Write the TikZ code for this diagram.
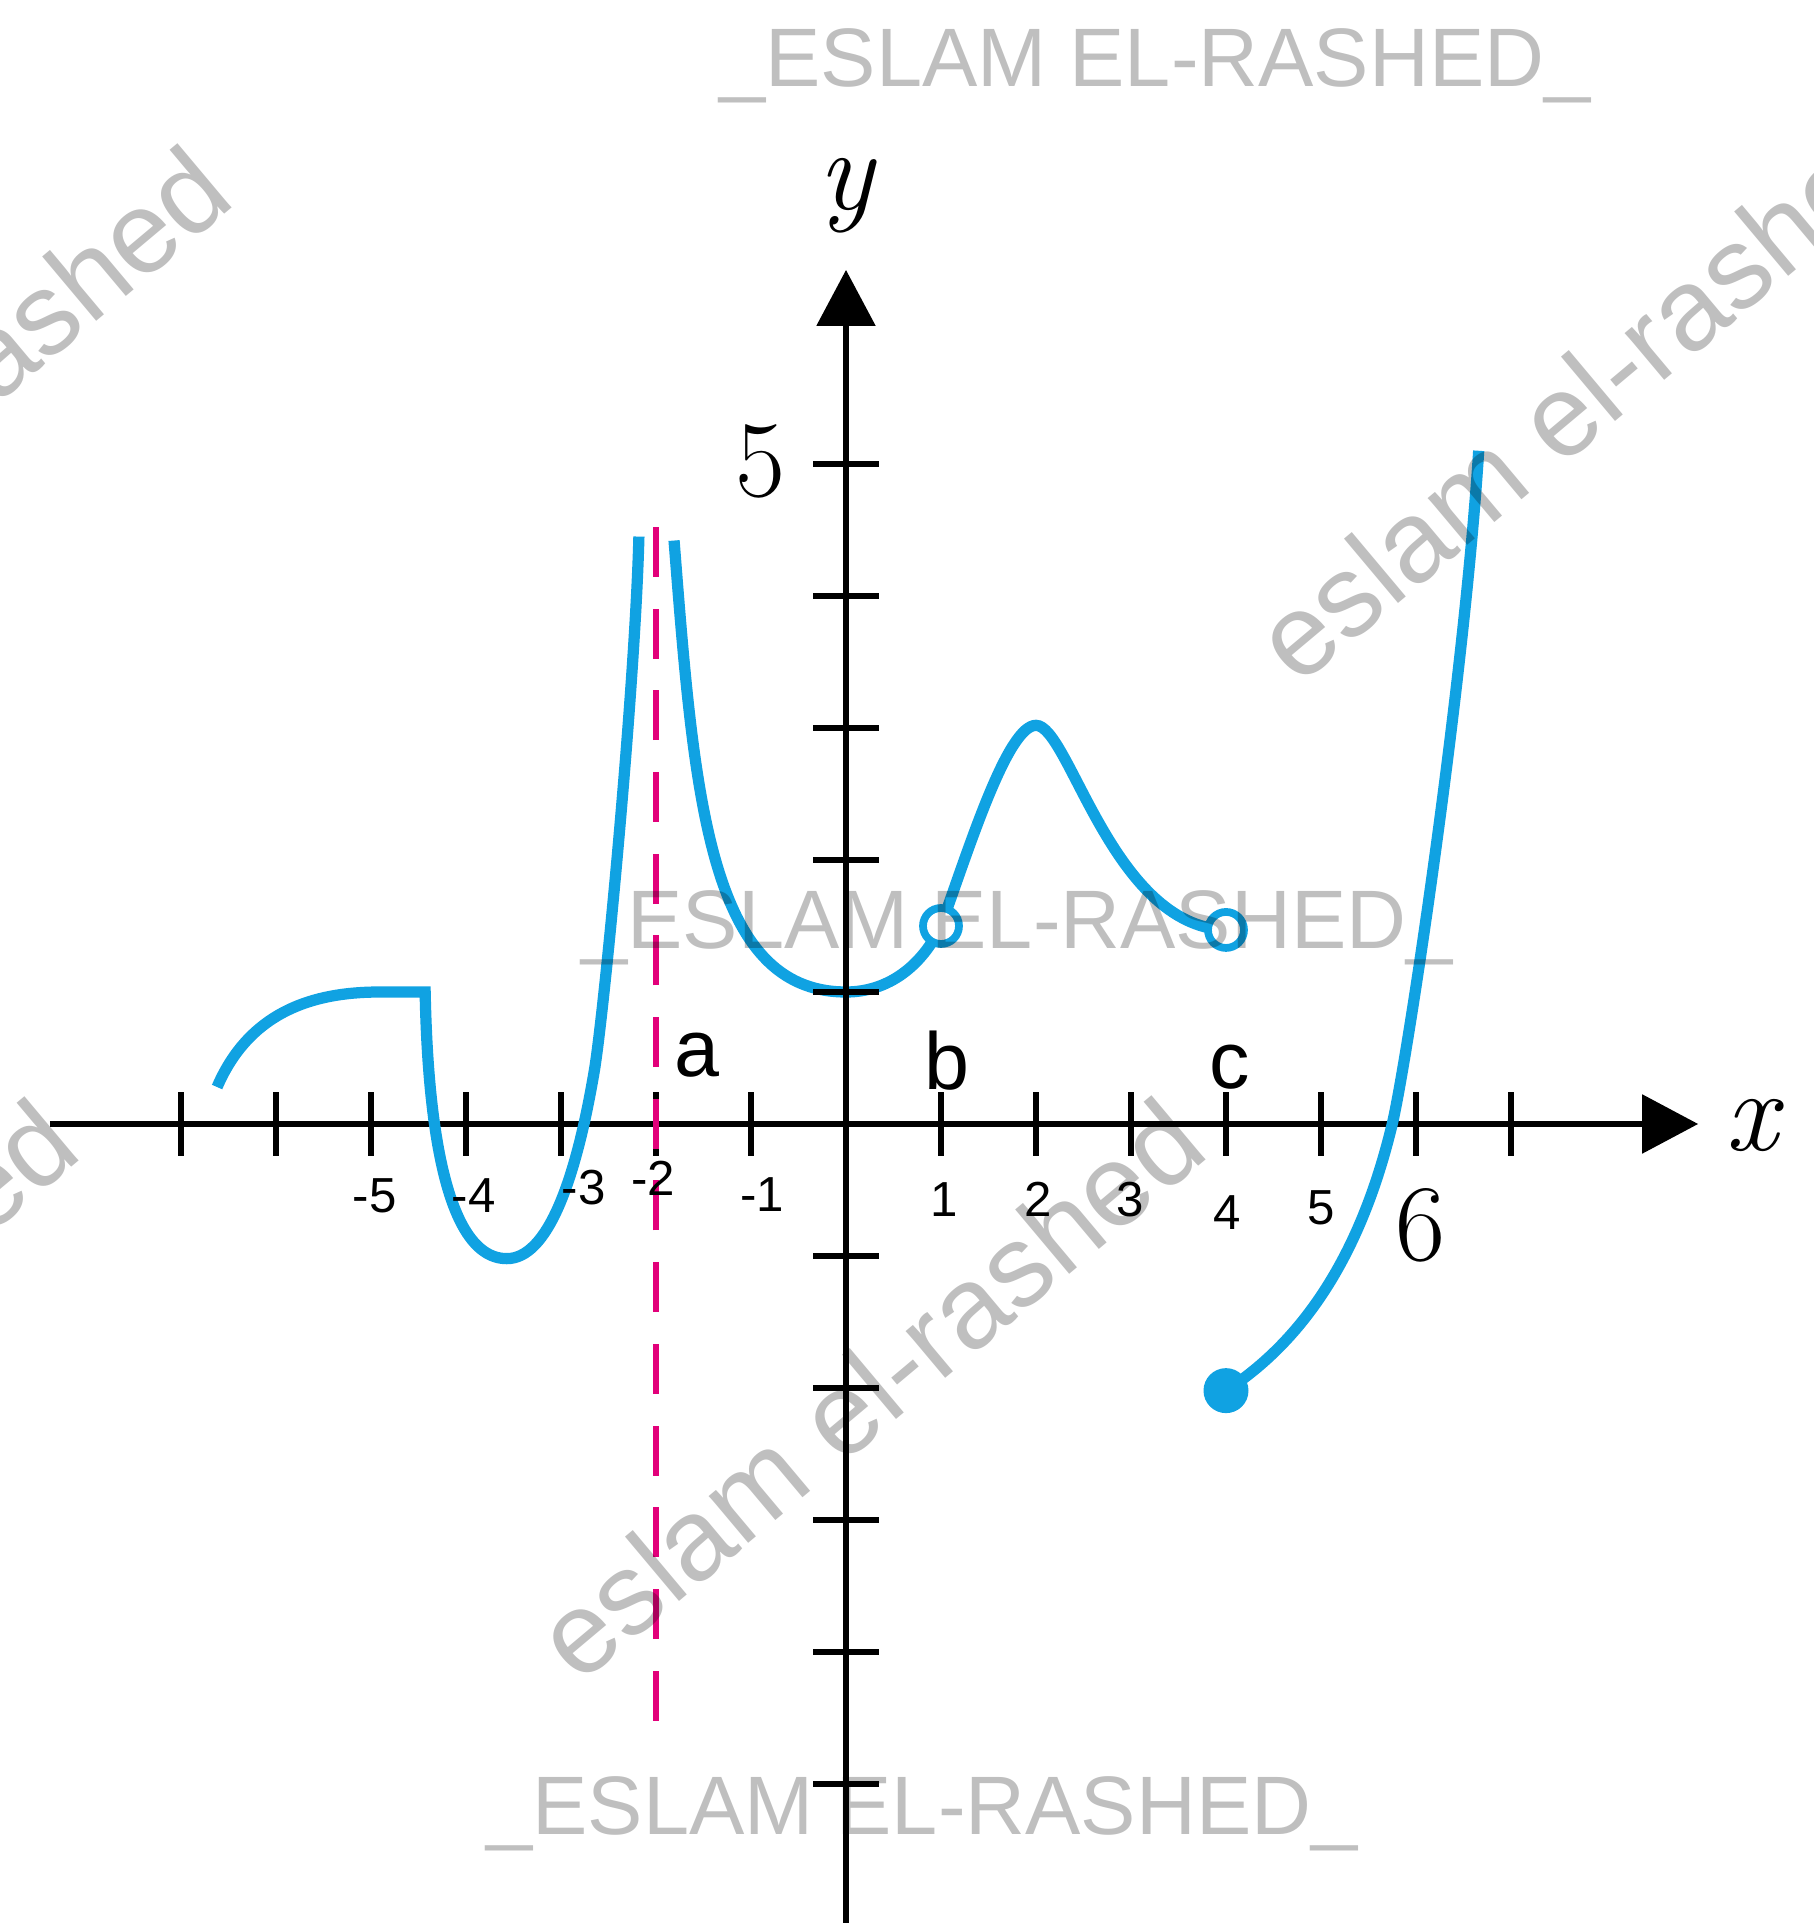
\documentclass[tikz,border=0pt]{standalone}
\usepackage{fontspec}
\usepackage{tikz}
\usetikzlibrary{arrows.meta}
\newfontfamily\labelfont{Liberation Sans}
\definecolor{curveblue}{RGB}{16,162,226}
\definecolor{asymred}{RGB}{226,0,122}

\begin{document}
\begin{tikzpicture}[
  x = 0.95cm, y = 1.32cm,
  axisline/.style = {line width=1.6pt, -{Triangle[length=0.56cm, width=0.58cm]}},
  tickline/.style = {line width=1.6pt},
  fcurve/.style   = {curveblue, line width=3.2pt},
  hole/.style     = {circle, draw=curveblue, line width=2.2pt, fill=white,
                     minimum size=0.36cm, inner sep=0pt},
  fulldot/.style  = {circle, fill=curveblue, minimum size=0.45cm, inner sep=0pt},
  asym/.style     = {asymred, line width=1.6pt, dash pattern=on 0.5cm off 0.317cm},
  num/.style      = {font=\labelfont\fontsize{14pt}{16pt}\selectfont,
                     inner sep=0pt, anchor=base},
  ptlabel/.style  = {font=\labelfont\fontsize{23pt}{26pt}\selectfont,
                     inner sep=0pt, anchor=base},
  bignum/.style   = {font=\fontsize{31pt}{36pt}\selectfont, inner sep=0pt},
  varlabel/.style = {font=\fontsize{33pt}{38pt}\selectfont\itshape, inner sep=0pt},
  wmark/.style    = {font=\labelfont\fontsize{23.6pt}{26pt}\selectfont,
                     black, opacity=0.25, inner sep=0pt, anchor=base},
  wdiag/.style    = {font=\labelfont\fontsize{33pt}{36pt}\selectfont,
                     black, opacity=0.25, inner sep=0pt, rotate=40}
]

\useasboundingbox (-8.46cm,-7.99cm) rectangle (9.67cm,11.24cm);

\draw[axisline] (-8.38,0) -- (8.97,0);
\foreach \i in {-7,-6,-5,-4,-3,-2,-1,1,2,3,4,5,6,7}
  \draw[tickline] (\i,0) ++(0,-0.32cm) -- ++(0,0.64cm);

\draw[fcurve] (-6.62,0.28) .. controls (-6.25,0.9) and (-5.5,1.0) .. (-4.9,1.0)
  -- (-4.43,1.0) .. controls (-4.41,0.3) and (-4.3,-1.02) .. (-3.57,-1.02)
  .. controls (-3.15,-1.02) and (-2.85,-0.45) .. (-2.65,0.4)
  .. controls (-2.55,0.82) and (-2.22,3.3) .. (-2.18,4.45);
\draw[fcurve] (-1.81,4.42) .. controls (-1.6,2.5) and (-1.45,1.0) .. (0,1.0)
  .. controls (0.45,1.0) and (0.8,1.2) .. (1,1.5);
\draw[fcurve] (1,1.5) .. controls (1.3,2.1) and (1.7,3.02) .. (2,3.02)
  .. controls (2.35,3.02) and (2.8,1.5) .. (4,1.47);
\draw[fcurve] (4,-2.02) .. controls (4.9,-1.6) and (5.45,-0.9) .. (5.75,0)
  .. controls (5.9,0.45) and (6.5,3.3) .. (6.66,5.1);

\draw[asym] (-2,-4.52) -- (-2,4.53);

\draw[axisline] (0,-6.1) -- (0,6.47);
\foreach \j in {-5,-4,-3,-2,-1,1,2,3,4,5}
  \draw[tickline] (0,\j) ++(-0.33cm,0) -- ++(0.66cm,0);

\node[hole] (holeb) at (1,1.5) {};
\node[hole] (holec) at (4,1.47) {};
\node[fulldot] (dotc) at (4,-2.02) {};

\node[varlabel] (ylab) at (0,7.03) {y};
\node[varlabel] (xlab) at (9.53,-0.015) {x};
\node[bignum] (five) at (-0.905,5.02) {5};
\node[bignum] (six) at (6.05,-0.765) {6};

\node[num] (nm5) at (-4.96,-0.67) {-5};
\node[num] (nm4) at (-3.92,-0.67) {-4};
\node[num] (nm3) at (-2.76,-0.61) {-3};
\node[num] (nm2) at (-2.03,-0.54) {-2};
\node[num] (nm1) at (-0.88,-0.66) {-1};
\node[num] (np1) at (1.03,-0.70) {1};
\node[num] (np2) at (2.02,-0.70) {2};
\node[num] (np3) at (2.99,-0.70) {3};
\node[num] (np4) at (4.01,-0.80) {4};
\node[num] (np5) at (5.0,-0.76) {5};

\node[ptlabel] (la) at (-1.57,0.36) {a};
\node[ptlabel] (lb) at (1.06,0.26) {b};
\node[ptlabel] (lc) at (4.04,0.27) {c};

\node[wmark] (wtop) at (3.09cm,10.37cm) {\_ESLAM EL-RASHED\_};
\node[wmark] (wmid) at (1.71cm,1.75cm) {\_ESLAM EL-RASHED\_};
\node[wmark] (wbot) at (0.76cm,-7.10cm) {\_ESLAM EL-RASHED\_};
\node[wdiag, anchor=base east] (wtl) at (-6.07cm,9.22cm) {eslam el-rashed};
\node[wdiag, anchor=base east] (wlft) at (-7.60cm,-0.31cm) {eslam el-rashed};
\node[wdiag, anchor=base west] (wtr) at (4.52cm,4.36cm) {eslam el-rashed};
\node[wdiag, anchor=base west] (wctr) at (-2.67cm,-5.62cm) {eslam el-rashed};

\end{tikzpicture}
\end{document}
